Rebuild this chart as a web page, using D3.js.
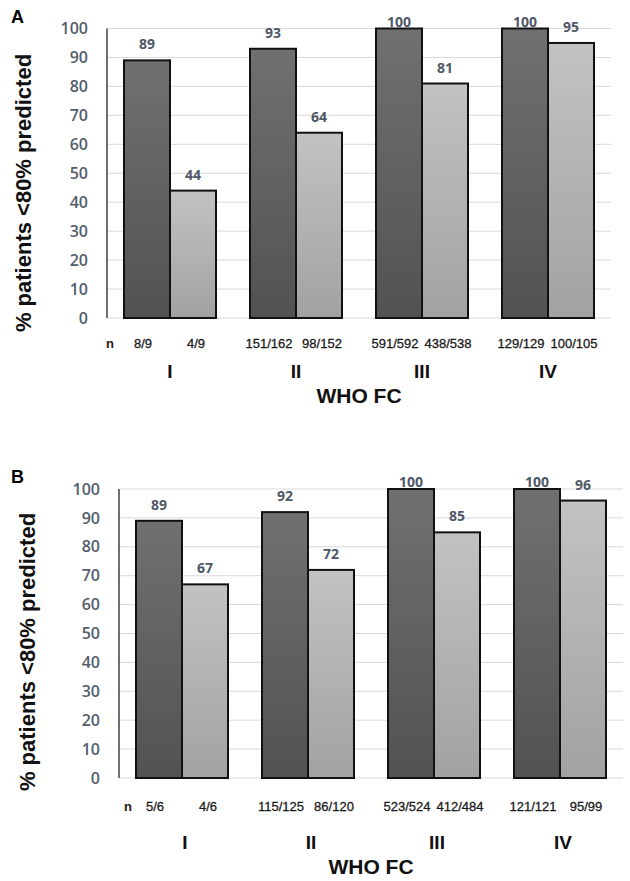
<!DOCTYPE html>
<html>
<head>
<meta charset="utf-8">
<script src="https://cdn.jsdelivr.net/npm/d3@7/dist/d3.min.js"></script>
<style>
  html, body { margin: 0; padding: 0; background: #ffffff; }
  svg { display: block; }
</style>
</head>
<body>
<svg id="chart" width="630" height="881"></svg>
<script>
// ---- data ----
const categories = ["I", "II", "III", "IV"];
const seriesKeys = ["dark", "light"];
const yTicks = [0, 10, 20, 30, 40, 50, 60, 70, 80, 90, 100];

const valuesA_dark  = [89, 93, 100, 100];
const valuesA_light = [44, 64, 81, 95];
const nA_dark  = ["8/9", "151/162", "591/592", "129/129"];
const nA_light = ["4/9", "98/152", "438/538", "100/105"];

const valuesB_dark  = [89, 92, 100, 100];
const valuesB_light = [67, 72, 85, 96];
const nB_dark  = ["5/6", "115/125", "523/524", "121/121"];
const nB_light = ["4/6", "86/120", "412/484", "95/99"];

const panelLetters = ["A", "B"];
const yTitle = "% patients <80% predicted";
const xTitle = "WHO FC";
const nPrefix = "n";

// ---- layout ----
const panels = [
  { letter: panelLetters[0], dark: valuesA_dark, light: valuesA_light, nDark: nA_dark, nLight: nA_light,
    x0: 107, x1: 611, yTop: 28.5, yBot: 318, letterY: 23,
    nY: 348, romanY: 378, titleY: 403, yTitleX: 31, yTitleY: 193, nX: 110, romanDx: 0 },
  { letter: panelLetters[1], dark: valuesB_dark, light: valuesB_light, nDark: nB_dark, nLight: nB_light,
    x0: 119, x1: 623, yTop: 489, yBot: 778, letterY: 483,
    nY: 811, romanY: 849, titleY: 874, yTitleX: 35, yTitleY: 652, nX: 128, romanDx: 3 }
];

const svg = d3.select("#chart");
const defs = svg.append("defs");

const gDark = defs.append("linearGradient").attr("id", "gradDark")
  .attr("x1", 0).attr("y1", 0).attr("x2", 0).attr("y2", 1);
gDark.append("stop").attr("offset", "0%").attr("stop-color", "#707070");
gDark.append("stop").attr("offset", "100%").attr("stop-color", "#525252");

const gLight = defs.append("linearGradient").attr("id", "gradLight")
  .attr("x1", 0).attr("y1", 0).attr("x2", 0).attr("y2", 1);
gLight.append("stop").attr("offset", "0%").attr("stop-color", "#c2c2c2");
gLight.append("stop").attr("offset", "100%").attr("stop-color", "#a2a2a2");

const fills = { dark: "url(#gradDark)", light: "url(#gradLight)" };
const labelColor = "#4f5866";
const tickColor = "#535d6b";

panels.forEach(p => {
  const g = svg.append("g");

  const y = d3.scaleLinear().domain([0, 100]).range([p.yBot, p.yTop]);
  const x0 = d3.scaleBand().domain(categories).range([p.x0, p.x1])
    .paddingInner(34 / 126).paddingOuter(17 / 126);
  const x1 = d3.scaleBand().domain(seriesKeys).range([0, x0.bandwidth()]).padding(0);

  // gridlines
  g.append("g").selectAll("line").data(yTicks).join("line")
    .attr("x1", p.x0).attr("x2", p.x1)
    .attr("y1", d => y(d)).attr("y2", d => y(d))
    .attr("stroke", "#d9d9d9").attr("stroke-width", 1);

  // y tick labels via axis
  const axis = d3.axisLeft(y).tickValues(yTicks).tickSize(0).tickPadding(19).tickFormat(d3.format("d"));
  const ag = g.append("g").attr("transform", `translate(${p.x0},0)`).call(axis);
  ag.select(".domain").remove();
  ag.selectAll("text")
    .attr("font-family", "'Open Sans', sans-serif")
    .attr("font-size", 16).attr("font-weight", 600)
    .attr("fill", tickColor);

  // vertical axis line
  g.append("line").attr("x1", p.x0).attr("x2", p.x0)
    .attr("y1", y(100)).attr("y2", y(0))
    .attr("stroke", "#404040").attr("stroke-width", 1.5);

  // bars
  const rows = categories.map((c, i) => ({
    cat: c,
    items: [
      { key: "dark", v: p.dark[i], n: p.nDark[i] },
      { key: "light", v: p.light[i], n: p.nLight[i] }
    ]
  }));

  const grp = g.append("g").selectAll("g").data(rows).join("g")
    .attr("transform", d => `translate(${x0(d.cat)},0)`);

  grp.selectAll("rect").data(d => d.items).join("rect")
    .attr("x", d => x1(d.key))
    .attr("y", d => y(d.v))
    .attr("width", x1.bandwidth())
    .attr("height", d => y(0) - y(d.v))
    .attr("fill", d => fills[d.key])
    .attr("stroke", "#111111").attr("stroke-width", 2);

  // value labels
  grp.selectAll("text.val").data(d => d.items).join("text")
    .attr("class", "val")
    .attr("x", d => x1(d.key) + x1.bandwidth() / 2)
    .attr("y", d => Math.max(y(d.v) - 11, y(100) - 2))
    .attr("text-anchor", "middle")
    .attr("font-family", "'Open Sans', sans-serif")
    .attr("font-size", 14).attr("font-weight", 700)
    .attr("fill", labelColor)
    .text(d => d.v);

  // n labels
  grp.selectAll("text.n").data(d => d.items).join("text")
    .attr("class", "n")
    .attr("x", d => x1(d.key) + x1.bandwidth() / 2 + (d.key === "dark" ? -4 : 3))
    .attr("y", p.nY)
    .attr("text-anchor", "middle")
    .attr("font-family", "'Liberation Sans', Arial, sans-serif")
    .attr("font-size", 13)
    .attr("fill", "#1a1a1a")
    .attr("stroke", "#1a1a1a").attr("stroke-width", 0.3)
    .text(d => d.n);

  g.append("text").attr("x", p.nX).attr("y", p.nY)
    .attr("text-anchor", "middle")
    .attr("font-family", "'Liberation Sans', Arial, sans-serif")
    .attr("font-size", 13).attr("font-weight", 700)
    .attr("fill", "#1a1a1a").text(nPrefix);

  // roman numerals
  g.append("g").selectAll("text").data(categories).join("text")
    .attr("x", d => x0(d) + x0.bandwidth() / 2 + p.romanDx)
    .attr("y", p.romanY)
    .attr("text-anchor", "middle")
    .attr("font-family", "'Liberation Sans', Arial, sans-serif")
    .attr("font-size", 19).attr("font-weight", 700)
    .attr("fill", "#111111")
    .text(d => d);

  // x title
  g.append("text").attr("x", (p.x0 + p.x1) / 2).attr("y", p.titleY)
    .attr("text-anchor", "middle")
    .attr("font-family", "'Liberation Sans', Arial, sans-serif")
    .attr("font-size", 21).attr("font-weight", 700)
    .attr("fill", "#111111").text(xTitle);

  // y title
  g.append("text")
    .attr("transform", `translate(${p.yTitleX},${p.yTitleY}) rotate(-90)`)
    .attr("text-anchor", "middle")
    .attr("font-family", "'Liberation Sans', Arial, sans-serif")
    .attr("font-size", 22).attr("font-weight", 700)
    .attr("fill", "#111111").text(yTitle);

  // panel letter
  g.append("text").attr("x", 11).attr("y", p.letterY)
    .attr("font-family", "'Liberation Sans', Arial, sans-serif")
    .attr("font-size", 18).attr("font-weight", 700)
    .attr("fill", "#000000").text(p.letter);
});
</script>
</body>
</html>
